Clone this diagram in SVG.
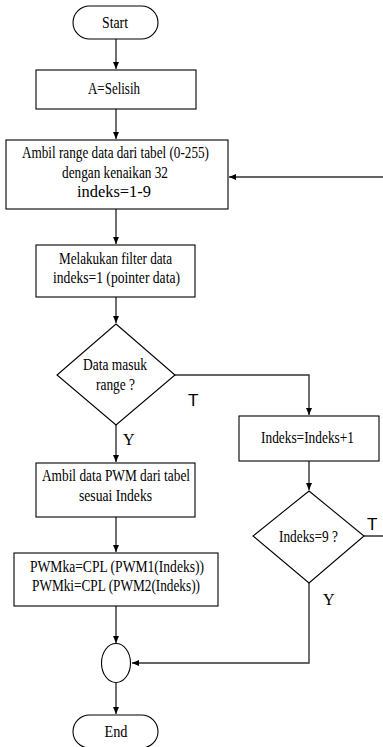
<svg xmlns="http://www.w3.org/2000/svg" width="383" height="747" viewBox="0 0 383 747">
<style>
.n{fill:#fff;stroke:#000;stroke-width:1.1}
.t{font-family:"Liberation Serif","Times New Roman",serif;font-size:16px;fill:#000}
.s{font-family:"Liberation Sans",Arial,sans-serif;font-size:17px;fill:#000}
.c{fill:none;stroke:#333;stroke-width:1.4}
</style>
<defs>
<marker id="ah" markerWidth="8" markerHeight="8" refX="7" refY="4" orient="auto" markerUnits="userSpaceOnUse">
<path d="M0,1 L7,4 L0,7 Z" fill="#000"/>
</marker>
</defs>
<rect width="383" height="747" fill="#fff"/>
<g id="connectors">
<path class="c" d="M116,39 V69" marker-end="url(#ah)"/>
<path class="c" d="M116,109 V139" marker-end="url(#ah)"/>
<path class="c" d="M116,209 V244" marker-end="url(#ah)"/>
<path class="c" d="M116,297 V323" marker-end="url(#ah)"/>
<path class="c" d="M116,425 V462" marker-end="url(#ah)"/>
<path class="c" d="M175,375 H309 V415" marker-end="url(#ah)"/>
<path class="c" d="M116,517 V552" marker-end="url(#ah)"/>
<path class="c" d="M116,606 V643" marker-end="url(#ah)"/>
<path class="c" d="M116,683 V714" marker-end="url(#ah)"/>
<path class="c" d="M309,461 V490" marker-end="url(#ah)"/>
<path class="c" d="M309,583 V663 H132" marker-end="url(#ah)"/>
<path class="c" d="M364,536 H390 V177 H229" marker-end="url(#ah)"/>
</g>
<g id="start">
<rect class="n" x="73" y="6" width="85" height="33" rx="16.5"/>
<text class="t" x="115" y="28" text-anchor="middle" textLength="26" lengthAdjust="spacingAndGlyphs">Start</text>
</g>
<g id="selisih">
<rect class="n" x="36" y="70" width="160" height="39"/>
<text class="t" x="114" y="94" text-anchor="middle" textLength="52" lengthAdjust="spacingAndGlyphs">A=Selisih</text>
</g>
<g id="ambil-range">
<rect class="n" x="6" y="140" width="222" height="69"/>
<text class="t" x="115.5" y="158" text-anchor="middle" textLength="187" lengthAdjust="spacingAndGlyphs">Ambil range data dari tabel (0-255)</text>
<text class="t" x="115" y="178" text-anchor="middle" textLength="106" lengthAdjust="spacingAndGlyphs">dengan kenaikan 32</text>
<text class="t" x="114" y="197" text-anchor="middle" textLength="74" lengthAdjust="spacingAndGlyphs">indeks=1-9</text>
</g>
<g id="filter">
<rect class="n" x="36" y="245" width="159" height="52"/>
<text class="t" x="115.5" y="264" text-anchor="middle" textLength="113" lengthAdjust="spacingAndGlyphs">Melakukan filter data</text>
<text class="t" x="116.5" y="283" text-anchor="middle" textLength="127" lengthAdjust="spacingAndGlyphs">indeks=1 (pointer data)</text>
</g>
<g id="cek-range">
<polygon class="n" points="116,324 175,375 116,425 57,375"/>
<text class="t" x="115" y="370" text-anchor="middle" textLength="64" lengthAdjust="spacingAndGlyphs">Data masuk</text>
<text class="t" x="115.5" y="390" text-anchor="middle" textLength="39" lengthAdjust="spacingAndGlyphs">range ?</text>
</g>
<text class="s" x="188" y="406">T</text>
<text class="t" x="123" y="445">Y</text>
<g id="increment">
<rect class="n" x="239" y="416" width="140" height="45"/>
<text class="t" x="307.5" y="443" text-anchor="middle" textLength="93" lengthAdjust="spacingAndGlyphs">Indeks=Indeks+1</text>
</g>
<g id="ambil-pwm">
<rect class="n" x="36" y="463" width="159" height="54"/>
<text class="t" x="116" y="481" text-anchor="middle" textLength="148" lengthAdjust="spacingAndGlyphs">Ambil data PWM dari tabel</text>
<text class="t" x="115.5" y="501" text-anchor="middle" textLength="73" lengthAdjust="spacingAndGlyphs">sesuai Indeks</text>
</g>
<g id="cek-indeks">
<polygon class="n" points="309,491 364,536 309,583 253,536"/>
<text class="t" x="308.5" y="542" text-anchor="middle" textLength="59" lengthAdjust="spacingAndGlyphs">Indeks=9 ?</text>
</g>
<text class="s" x="367" y="530">T</text>
<text class="t" x="323" y="605">Y</text>
<g id="pwm-out">
<rect class="n" x="14" y="553" width="204" height="53"/>
<text class="t" x="117" y="572" text-anchor="middle" textLength="174" lengthAdjust="spacingAndGlyphs">PWMka=CPL (PWM1(Indeks))</text>
<text class="t" x="116" y="591" text-anchor="middle" textLength="168" lengthAdjust="spacingAndGlyphs">PWMki=CPL (PWM2(Indeks))</text>
</g>
<g id="join">
<ellipse class="n" cx="116" cy="663" rx="14.5" ry="19.5"/>
</g>
<g id="end">
<rect class="n" x="73" y="715" width="85" height="33" rx="16.5"/>
<text class="t" x="116" y="737" text-anchor="middle" textLength="23" lengthAdjust="spacingAndGlyphs">End</text>
</g>
</svg>
